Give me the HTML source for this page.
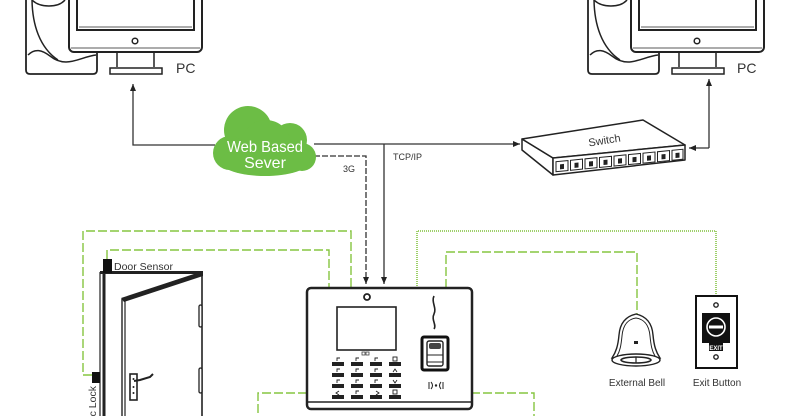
<!DOCTYPE html>
<html><head><meta charset="utf-8"><style>
html,body{margin:0;padding:0;background:#fff;width:785px;height:416px;overflow:hidden;}
svg{display:block;overflow:hidden;}
text{font-family:"Liberation Sans",sans-serif;fill:#333;}
</style></head><body>
<svg width="785" height="416" viewBox="0 0 785 416" xmlns="http://www.w3.org/2000/svg">
<defs>
<marker id="ah" markerWidth="8" markerHeight="8" refX="7" refY="4" orient="auto" markerUnits="userSpaceOnUse">
<path d="M0,1 L7,4 L0,7 Z" fill="#222"/>
</marker>
<g id="pc">
  <path d="M26,-2 L26,70 Q26,74 30,74 L93,74 Q97,74 97,70 L97,50" fill="#fff" stroke="#222" stroke-width="1.8"/>
  <path d="M32,-2 C32,25 40,48 58,60" fill="none" stroke="#222" stroke-width="1.5"/>
  <path d="M28,55 C35,48 42,50 50,56 C55,60 60,62 66,62 C76,62 86,56 96,55" fill="none" stroke="#222" stroke-width="1.5"/>
  <path d="M32,0 C40,8 58,8 65,0" fill="none" stroke="#222" stroke-width="1.5"/>
  <rect x="69" y="-10" width="133" height="62" rx="5" fill="#fff" stroke="#222" stroke-width="2"/>
  <line x1="71" y1="48" x2="200" y2="48" stroke="#222" stroke-width="0.8"/>
  <rect x="77" y="-10" width="117" height="40" fill="#fff" stroke="#222" stroke-width="2"/>
  <line x1="79" y1="27" x2="192" y2="27" stroke="#222" stroke-width="0.8"/>
  <circle cx="135" cy="41" r="2.8" fill="none" stroke="#222" stroke-width="1.5"/>
  <path d="M117,52 L117,67 M154,52 L154,67" stroke="#222" stroke-width="1.5"/>
  <rect x="110" y="68" width="52" height="6" fill="#fff" stroke="#222" stroke-width="1.5"/>
</g>
</defs>

<use href="#pc"/>
<use href="#pc" transform="translate(562,0)"/>
<text x="176" y="73" font-size="14">PC</text>
<text x="737" y="73" font-size="14">PC</text>

<path d="M215,145 L133,145 L133,84" fill="none" stroke="#333" stroke-width="1.3" marker-end="url(#ah)"/>
<path d="M314,144 L520,144" fill="none" stroke="#333" stroke-width="1.3" marker-end="url(#ah)"/>
<path d="M384,144 L384,284" fill="none" stroke="#333" stroke-width="1.3" marker-end="url(#ah)"/>
<path d="M314,156 L366,156 L366,284" fill="none" stroke="#333" stroke-width="1.3" stroke-dasharray="6 2" marker-end="url(#ah)"/>
<path d="M709,148 L709,79" fill="none" stroke="#333" stroke-width="1.3" marker-end="url(#ah)"/>
<path d="M709,148 L689,148" fill="none" stroke="#333" stroke-width="1.3" marker-end="url(#ah)"/>
<text x="343" y="172" font-size="9">3G</text>
<text x="393" y="160" font-size="9">TCP/IP</text>

<g fill="#6cbd45">
  <circle cx="248" cy="130" r="24"/>
  <circle cx="290" cy="140" r="17"/>
  <circle cx="302" cy="157" r="14"/>
  <circle cx="230" cy="153" r="17"/>
  <circle cx="266" cy="145" r="25"/>
  <ellipse cx="265" cy="161" rx="45" ry="15"/>
</g>
<text x="265" y="152" font-size="16" text-anchor="middle" style="fill:#fff" textLength="76" lengthAdjust="spacingAndGlyphs">Web Based</text>
<text x="265" y="168" font-size="16" text-anchor="middle" style="fill:#fff">Sever</text>

<g stroke="#222" stroke-width="1.5" fill="#fff" stroke-linejoin="round">
  <polygon points="522,139 553,158 553,175 522,150"/>
  <polygon points="522,139 643,120 685,145 553,158"/>
  <polygon points="553,158 685,145 685,160 553,175"/>
</g>
<g transform="translate(553,158) skewY(-5.6)">
  <g fill="#fff" stroke="#222" stroke-width="1">
    <rect x="3" y="4" width="12" height="10"/><rect x="17.5" y="4" width="12" height="10"/>
    <rect x="32" y="4" width="12" height="10"/><rect x="46.5" y="4" width="12" height="10"/>
    <rect x="61" y="4" width="12" height="10"/><rect x="75.5" y="4" width="12" height="10"/>
    <rect x="90" y="4" width="12" height="10"/><rect x="104.5" y="4" width="12" height="10"/>
    <rect x="119" y="4" width="11" height="10"/>
  </g>
  <g fill="#222">
    <rect x="7" y="7" width="4" height="5"/><rect x="21.5" y="7" width="4" height="5"/>
    <rect x="36" y="7" width="4" height="5"/><rect x="50.5" y="7" width="4" height="5"/>
    <rect x="65" y="7" width="4" height="5"/><rect x="79.5" y="7" width="4" height="5"/>
    <rect x="94" y="7" width="4" height="5"/><rect x="108.5" y="7" width="4" height="5"/>
    <rect x="122.5" y="7" width="4" height="5"/>
  </g>
</g>
<text x="0" y="0" font-size="11" text-anchor="middle" transform="translate(605,144) rotate(-9)">Switch</text>

<g fill="none" stroke="#86c540" stroke-width="1.4">
  <path d="M92,375 L83,375 L83,231 L351,231 L351,288" stroke-dasharray="9 3"/>
  <path d="M107,259 L107,250 L329,250 L329,288" stroke-dasharray="9 3"/>
  <path d="M446,288 L446,252 L637,252 L637,316" stroke-dasharray="9 3"/>
  <path d="M307,393 L258,393 L258,416" stroke-dasharray="9 3"/>
  <path d="M471,393 L534,393 L534,416" stroke-dasharray="9 3"/>
  <path d="M417,288 L417,231 L716,231 L716,297" stroke="#9fd06a" stroke-width="2" stroke-dasharray="1 1"/>
</g>

<g stroke="#222" fill="none">
  <line x1="100" y1="272" x2="100" y2="416" stroke-width="1.2"/>
  <line x1="104" y1="272" x2="104" y2="416" stroke-width="3"/>
  <line x1="100" y1="272.5" x2="203" y2="272.5" stroke-width="3"/>
  <line x1="202" y1="272" x2="202" y2="416" stroke-width="1.6"/>
  <line x1="122" y1="299" x2="122" y2="416" stroke-width="1.4"/>
  <line x1="125" y1="301" x2="125" y2="416" stroke-width="1.2"/>
  <rect x="199" y="305" width="3" height="22" rx="1.5" stroke-width="1.3" fill="#fff"/>
  <rect x="199" y="368" width="3" height="25" rx="1.5" stroke-width="1.3" fill="#fff"/>
</g>
<polygon points="121,298 203,271 203,276 124,302" fill="#222"/>
<rect x="103" y="259" width="9" height="14" fill="#111"/>
<rect x="92" y="372" width="8" height="11" fill="#111"/>
<rect x="130" y="374" width="7" height="26" fill="#fff" stroke="#222" stroke-width="1.6"/>
<g fill="#222"><circle cx="133.5" cy="379" r="1"/><circle cx="133.5" cy="387" r="1"/><circle cx="133.5" cy="393" r="1"/></g>
<path d="M134,381 L140,380 L150,377 L153,374" fill="none" stroke="#222" stroke-width="2"/>
<text x="114" y="270" font-size="10.5">Door Sensor</text>
<text x="0" y="0" font-size="10.5" text-anchor="end" transform="translate(96,386) rotate(-90)">Electric Lock</text>

<rect x="307" y="288" width="165" height="121" rx="4" fill="#fff" stroke="#222" stroke-width="2.5"/>
<line x1="307" y1="402" x2="472" y2="402" stroke="#222" stroke-width="1.6"/>
<circle cx="367" cy="297" r="3" fill="none" stroke="#222" stroke-width="1.8"/>
<rect x="337" y="307" width="59" height="43" fill="#fff" stroke="#222" stroke-width="1.6"/>
<g fill="none" stroke="#444" stroke-width="0.8"><rect x="362" y="352" width="3" height="3"/><rect x="366" y="352" width="3" height="3"/></g>
<path d="M434,296 C431,302 437,308 434,314 C431,320 437,325 434,329" fill="none" stroke="#222" stroke-width="1.6"/>
<rect x="422" y="337" width="26" height="33" rx="2" fill="#fff" stroke="#111" stroke-width="3"/>
<rect x="427" y="341" width="16" height="25" rx="2" fill="none" stroke="#222" stroke-width="1.4"/>
<rect x="429" y="343" width="12" height="6" rx="2" fill="#444"/>
<line x1="427" y1="355" x2="443" y2="355" stroke="#222" stroke-width="1"/>
<line x1="427" y1="362" x2="443" y2="362" stroke="#222" stroke-width="1"/>
<g fill="none" stroke="#222" stroke-width="1">
  <line x1="429" y1="382" x2="429" y2="389"/>
  <path d="M431,382 Q434,385.5 431,389"/>
  <path d="M441,382 Q438,385.5 441,389"/>
  <line x1="443" y1="382" x2="443" y2="389"/>
</g>
<circle cx="436" cy="385.5" r="1.2" fill="#222"/>
<g fill="#222">
  <rect x="332" y="362" width="12" height="4"/><rect x="351" y="362" width="12" height="4"/><rect x="370" y="362" width="12" height="4"/><rect x="389" y="362" width="12" height="4"/>
  <rect x="332" y="373" width="12" height="4"/><rect x="351" y="373" width="12" height="4"/><rect x="370" y="373" width="12" height="4"/><rect x="389" y="373" width="12" height="4"/>
  <rect x="332" y="384" width="12" height="4"/><rect x="351" y="384" width="12" height="4"/><rect x="370" y="384" width="12" height="4"/><rect x="389" y="384" width="12" height="4"/>
  <rect x="332" y="395" width="12" height="4"/><rect x="351" y="395" width="12" height="4"/><rect x="370" y="395" width="12" height="4"/><rect x="389" y="395" width="12" height="4"/>
</g>
<g fill="none" stroke="#222" stroke-width="0.9">
  <path d="M337,361 l0,-3 l3,0 M356,361 l0,-3 l3,0 M375,361 l0,-3 l3,0"/><rect x="393" y="357" width="4" height="4"/>
  <path d="M337,372 l0,-3 l3,0 M356,372 l0,-3 l3,0 M375,372 l0,-3 l3,0 M393,372 l2,-3 l2,3"/>
  <path d="M337,383 l0,-3 l3,0 M356,383 l0,-3 l3,0 M375,383 l0,-3 l3,0 M393,380 l2,3 l2,-3"/>
  <path d="M339,391 l-3,2 l3,2 M356,394 l0,-3 l3,0 M376,391 l3,2 l-3,2"/><rect x="393" y="390" width="4" height="4"/>
</g>

<path d="M636,314 C627,316 620,322 619,335 C618,346 616,352 612,358 L660,358 C656,352 654,346 653,335 C652,322 645,316 636,314 Z" fill="#fff" stroke="#222" stroke-width="1.4"/>
<path d="M636,318 C629,319 623,324 622,336 C621,346 620,351 617,356 L655,356 C652,351 651,346 650,336 C649,324 643,319 636,318 Z" fill="none" stroke="#222" stroke-width="1"/>
<ellipse cx="636" cy="360" rx="24" ry="6" fill="#fff" stroke="#222" stroke-width="1.4"/>
<ellipse cx="636" cy="360" rx="15" ry="3" fill="none" stroke="#222" stroke-width="1.6"/>
<line x1="636" y1="357" x2="636" y2="363" stroke="#222" stroke-width="1.2"/>
<rect x="634" y="341" width="4" height="3" fill="#222"/>
<text x="637" y="386" font-size="10" text-anchor="middle">External Bell</text>

<rect x="696" y="296" width="41" height="72" fill="#fff" stroke="#111" stroke-width="2"/>
<circle cx="716" cy="305" r="2.2" fill="none" stroke="#222" stroke-width="1.4"/>
<circle cx="716" cy="357" r="2.2" fill="none" stroke="#222" stroke-width="1.4"/>
<rect x="702" y="313" width="28" height="30" fill="#111"/>
<rect x="709" y="342" width="14" height="9" fill="#111"/>
<circle cx="716" cy="327" r="9" fill="#111" stroke="#fff" stroke-width="1.6"/>
<rect x="709" y="325.5" width="14" height="3" fill="#fff"/>
<text x="716" y="350" font-size="6" font-weight="bold" text-anchor="middle" style="fill:#fff">EXIT</text>
<text x="717" y="386" font-size="10" text-anchor="middle">Exit Button</text>
</svg>
</body></html>
